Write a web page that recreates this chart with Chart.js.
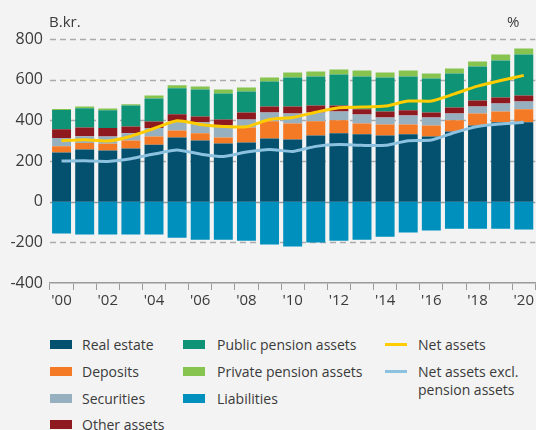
<!DOCTYPE html>
<html>
<head>
<meta charset="utf-8">
<script src="https://cdn.jsdelivr.net/npm/chart.js@4/dist/chart.umd.min.js"></script>
<style>
  html, body { margin: 0; padding: 0; background: #f3f3f3; }
  #wrap { position: relative; width: 536px; height: 430px; overflow: hidden; background: #f3f3f3; }
  #c { position: absolute; left: 0; top: 0; }
  .lg { position: absolute; font-family: "Open Sans", "Noto Sans", sans-serif; font-size: 14px; line-height: 17px; color: #3a3a3a; white-space: nowrap; }
  .sw { position: absolute; width: 22px; height: 9px; }
  .ln { position: absolute; width: 22px; height: 3px; }
</style>
</head>
<body>
<div id="wrap">
  <canvas id="c" width="536" height="310"></canvas>
  <div id="legend"></div>
</div>
<script>
// Household wealth, billions of kroner, 2000–2020
const years = ["'00","'01","'02","'03","'04","'05","'06","'07","'08","'09","'10",
               "'11","'12","'13","'14","'15","'16","'17","'18","'19","'20"];

const realEstate     = [242, 257, 252, 262, 280, 316, 301, 286, 291, 311, 306, 326, 336, 331, 326, 331, 321, 345, 375, 390, 390];
const deposits       = [ 31,  31,  33,  39,  41,  34,  35,  30,  74,  84,  79,  69,  64,  54,  54,  49,  54,  55,  59,  54,  64];
const securities     = [ 40,  34,  36,  35,  41,  46,  54,  58,  39,  44,  49,  44,  44,  44,  34,  44,  39,  34,  34,  39,  39];
const otherAssets    = [ 43,  43,  41,  34,  32,  34,  29,  30,  35,  29,  34,  34,  29,  25,  30,  25,  25,  29,  30,  29,  29];
const publicPension  = [ 95,  95,  87, 103, 113, 128, 133, 128, 103, 123, 143, 143, 152, 162, 167, 167, 167, 167, 167, 182, 202];
const privatePension = [  5,   8,   9,   6,  15,  14,  14,  20,  20,  20,  24,  24,  25,  29,  24,  29,  24,  25,  24,  30,  29];
const liabilities    = [-157,-162,-162,-162,-162,-177,-187,-187,-192,-211,-221,-201,-192,-187,-172,-152,-142,-133,-133,-133,-137];

const netAssets      = [300, 305, 298, 322, 360, 398, 380, 370, 368, 404, 414, 440, 462, 465, 470, 495, 495, 530, 568, 596, 621];
const netExclPension = [200, 201, 198, 211, 234, 254, 234, 222, 244, 257, 247, 272, 281, 277, 277, 300, 303, 340, 370, 382, 390];

const yTicks = [-400, -200, 0, 200, 400, 600, 800];

const FONT = '"Open Sans", "Noto Sans", sans-serif';
const TEXT = '#3a3a3a';

const barSeries = [
  { label: 'Real estate',            data: realEstate,     color: '#03506f' },
  { label: 'Deposits',               data: deposits,       color: '#f47a26' },
  { label: 'Securities',             data: securities,     color: '#97b0bf' },
  { label: 'Other assets',           data: otherAssets,    color: '#8e1a1f' },
  { label: 'Public pension assets',  data: publicPension,  color: '#0f9376' },
  { label: 'Private pension assets', data: privatePension, color: '#86c34f' },
  { label: 'Liabilities',            data: liabilities,    color: '#0090bd' }
];
const lineSeries = [
  { label: 'Net assets',                        data: netAssets,      color: '#ffcc00', stack: 'net' },
  { label: 'Net assets excl.\npension assets',  data: netExclPension, color: '#8cc2df', stack: 'netx' }
];

const datasets = [
  ...lineSeries.map(s => ({
    type: 'line', label: s.label, data: s.data, borderColor: s.color, backgroundColor: s.color,
    borderWidth: 3, pointRadius: 0, tension: 0.2, fill: false, stack: s.stack, order: 0
  })),
  ...barSeries.map(s => ({
    type: 'bar', label: s.label, data: s.data, backgroundColor: s.color,
    borderWidth: 0, stack: 'wealth', order: 1,
    barPercentage: 0.82, categoryPercentage: 1.0
  }))
];

// Horizontal reference lines under the bars, plus the unit captions
const gridAndCaptions = {
  id: 'gridAndCaptions',
  beforeDatasetsDraw(chart) {
    const { ctx, chartArea, scales: { y } } = chart;
    ctx.save();
    yTicks.forEach(v => {
      if (v === -400) return;
      const py = Math.round(y.getPixelForValue(v)) + 0.5;
      ctx.beginPath();
      if (v === 0) {
        ctx.setLineDash([]);
        ctx.strokeStyle = '#9a9a9a';
        ctx.lineWidth = 1.5;
      } else {
        ctx.setLineDash([6, 4]);
        ctx.strokeStyle = '#ababab';
        ctx.lineWidth = 1.3;
      }
      ctx.moveTo(chartArea.left, py);
      ctx.lineTo(chartArea.right, py);
      ctx.stroke();
    });
    ctx.restore();
  },
  afterDraw(chart) {
    const { ctx } = chart;
    ctx.save();
    ctx.fillStyle = TEXT;
    ctx.font = '15px ' + FONT;
    ctx.textBaseline = 'alphabetic';
    ctx.textAlign = 'left';
    ctx.fillText('B.kr.', 49, 27);
    ctx.fillText('%', 507, 27);
    ctx.restore();
  }
};

new Chart(document.getElementById('c'), {
  data: { labels: years, datasets },
  options: {
    responsive: false,
    animation: false,
    events: [],
    layout: { padding: { top: 39, right: 0, bottom: 0, left: 0 } },
    plugins: { legend: { display: false }, tooltip: { enabled: false } },
    scales: {
      x: {
        stacked: true,
        offset: true,
        grid: { display: true, drawOnChartArea: false, drawTicks: true, tickLength: 7, color: '#9a9a9a', lineWidth: 1, offset: true },
        border: { display: true, color: '#9a9a9a', width: 1.5 },
        ticks: {
          autoSkip: false, maxRotation: 0, minRotation: 0, padding: 2,
          color: TEXT, font: { family: FONT, size: 15 },
          callback: (v, i) => (i % 2 === 0 ? years[i] : '')
        },
        afterFit: s => { s.height = 27; }
      },
      y: {
        stacked: true,
        min: -400, max: 800,
        afterBuildTicks: s => { s.ticks = yTicks.map(v => ({ value: v })); },
        grid: { display: false, drawTicks: false },
        border: { display: false },
        ticks: { padding: 7, color: TEXT, font: { family: FONT, size: 16 } },
        afterFit: s => { s.width = 50; }
      }
    }
  },
  plugins: [gridAndCaptions]
});

// Legend in three columns
const legend = document.getElementById('legend');
const rowTop = [336, 363, 390, 416];
const cols = [
  { x: 50,  textX: 82,  items: barSeries.slice(0, 4) },
  { x: 183, textX: 217, items: barSeries.slice(4, 7) }
];
cols.forEach(col => {
  col.items.forEach((s, r) => {
    const sw = document.createElement('div');
    sw.className = 'sw';
    sw.style.left = col.x + 'px';
    sw.style.top = (rowTop[r] + 4) + 'px';
    sw.style.background = s.color;
    legend.appendChild(sw);
    const t = document.createElement('div');
    t.className = 'lg';
    t.style.left = col.textX + 'px';
    t.style.top = rowTop[r] + 'px';
    t.textContent = s.label;
    legend.appendChild(t);
  });
});
lineSeries.forEach((s, r) => {
  const ln = document.createElement('div');
  ln.className = 'ln';
  ln.style.left = '385px';
  ln.style.top = (rowTop[r] + 7) + 'px';
  ln.style.background = s.color;
  legend.appendChild(ln);
  const t = document.createElement('div');
  t.className = 'lg';
  t.style.left = '418px';
  t.style.top = rowTop[r] + 'px';
  t.style.lineHeight = '18px';
  t.style.whiteSpace = 'pre';
  t.textContent = s.label;
  legend.appendChild(t);
});
</script>
</body>
</html>
